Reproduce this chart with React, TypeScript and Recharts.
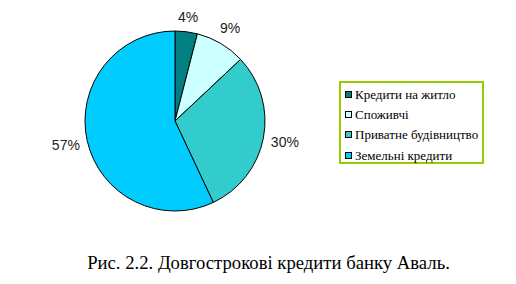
import { Cell, Legend, Pie, PieChart } from 'recharts'

const categories = ['Кредити на житло', 'Споживчі', 'Приватне будівництво', 'Земельні кредити']
const shares = [4, 9, 30, 57]
const colors = ['#008080', '#CCFFFF', '#33CCCC', '#00CCFF']

const data = categories.map((name, i) => ({ name, value: shares[i] }))

const RAD = Math.PI / 180
const serif = "'Liberation Serif', 'Times New Roman', serif"
const sans = "'Liberation Sans', Arial, sans-serif"

function renderLabel(props: any) {
  const { cx, cy, midAngle, outerRadius, value } = props
  const c = Math.cos(-midAngle * RAD)
  const s = Math.sin(-midAngle * RAD)
  const r = outerRadius + 14 + 8 * Math.abs(c)
  return (
    <text
      x={cx + r * c}
      y={cy + r * s}
      textAnchor="middle"
      dominantBaseline="central"
      fill="#222"
      fontSize={14}
      fontFamily={sans}
    >
      {value}%
    </text>
  )
}

function LegendBox() {
  return (
    <div
      style={{
        border: '2px solid #99CC00',
        width: 145,
        height: 83,
        padding: '1px 0 0 4px',
        boxSizing: 'border-box',
        fontFamily: serif,
        fontSize: 13,
        lineHeight: '15px',
        color: '#000',
        background: '#fff'
      }}
    >
      {data.map((d, i) => (
        <div key={d.name} style={{ display: 'flex', alignItems: 'center', height: 20.3 }}>
          <span
            style={{
              display: 'inline-block',
              width: 5,
              height: 5,
              border: '1px solid #000',
              background: colors[i],
              marginRight: 3
            }}
          />
          {d.name}
        </div>
      ))}
    </div>
  )
}

export default function App() {
  return (
    <div style={{ position: 'absolute', left: 0, top: 0, width: 516, height: 284, background: '#fff' }}>
      <PieChart width={516} height={284} margin={{ top: 0, right: 0, bottom: 0, left: 0 }}>
        <Pie
          data={data}
          dataKey="value"
          nameKey="name"
          cx={175}
          cy={121}
          outerRadius={90}
          startAngle={90}
          endAngle={-270}
          stroke="#000"
          strokeWidth={1}
          label={renderLabel}
          labelLine={false}
          isAnimationActive={false}
        >
          {data.map((d, i) => (
            <Cell key={d.name} fill={colors[i]} />
          ))}
        </Pie>
        <Legend
          content={() => <LegendBox />}
          wrapperStyle={{ position: 'absolute', left: 339, top: 81, width: 'auto' }}
        />
      </PieChart>
      <div
        style={{
          position: 'absolute',
          left: 0,
          top: 252,
          width: 537,
          textAlign: 'center',
          fontFamily: serif,
          fontSize: 18.7,
          color: '#000'
        }}
      >
        Рис. 2.2. Довгострокові кредити банку Аваль.
      </div>
    </div>
  )
}
